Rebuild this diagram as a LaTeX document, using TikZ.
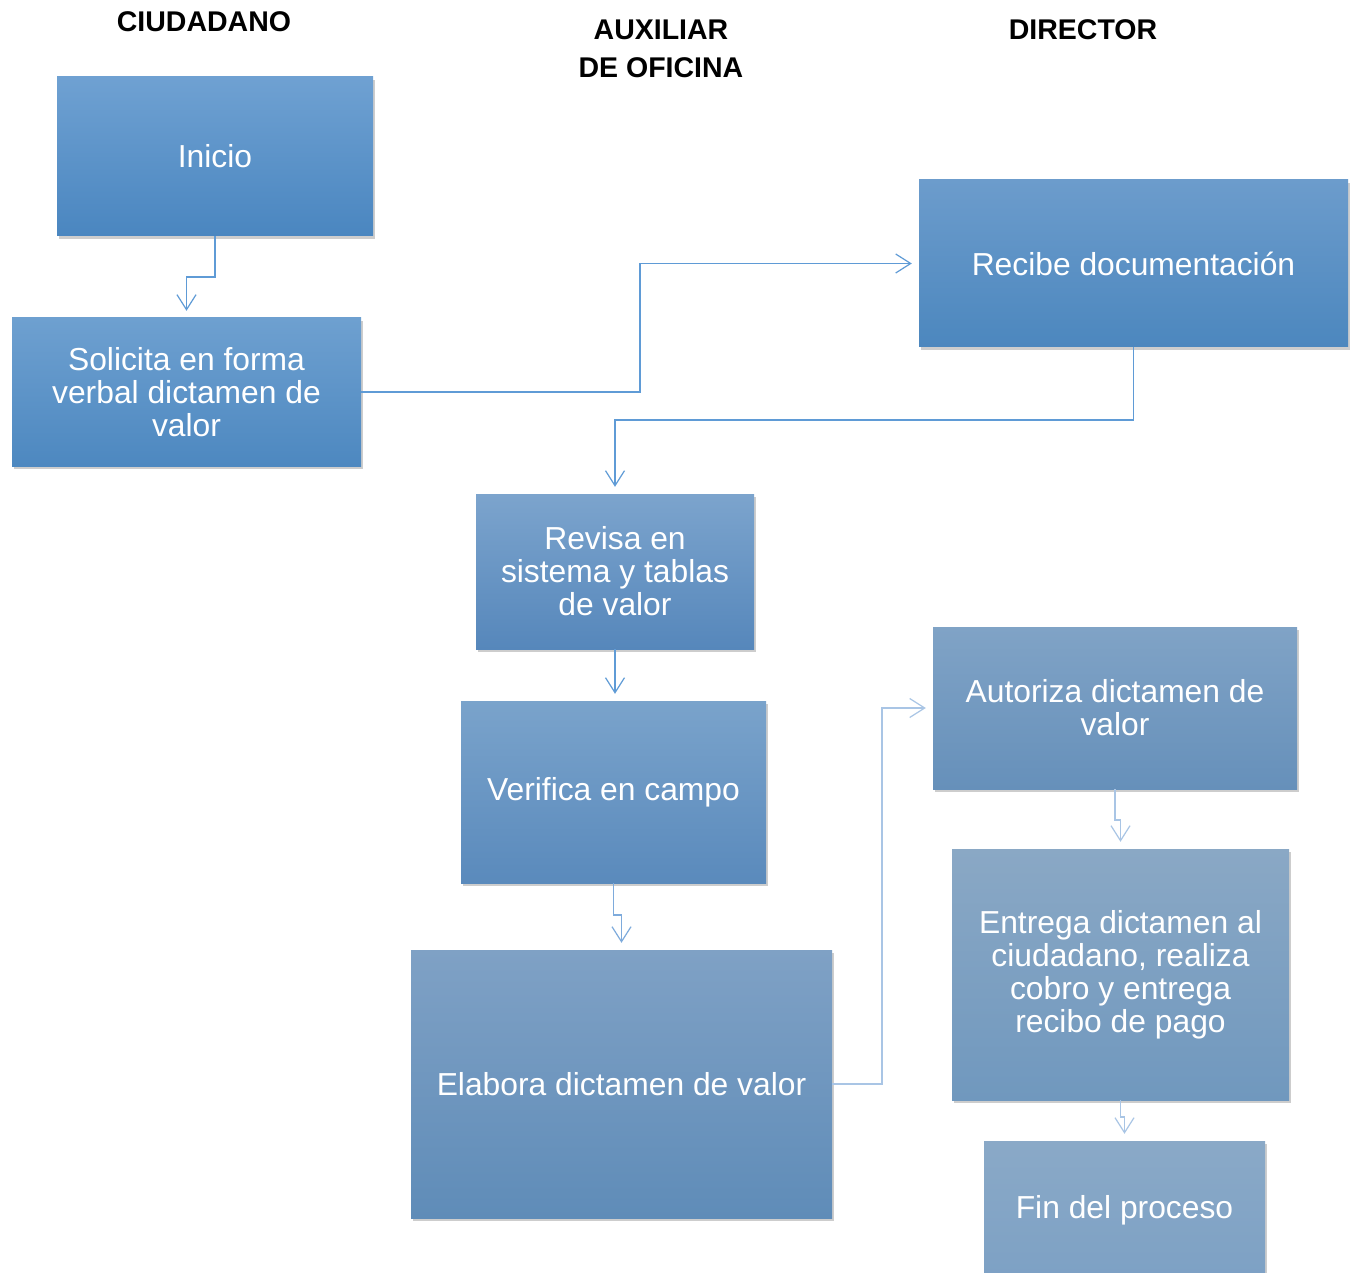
\documentclass[tikz,border=0pt]{standalone}
\usepackage{fontspec}
\setmainfont{Liberation Sans}
\usetikzlibrary{arrows.meta,shadows}

\definecolor{lineA}{HTML}{5F9BD6}
\definecolor{lineB}{HTML}{7EABDC}
\definecolor{lineC}{HTML}{A9C5E5}

\tikzset{
  stepbox/.style={
    rectangle, draw=none, align=center, text=white,
    font=\fontsize{31.8}{33}\selectfont, inner sep=4pt,
    drop shadow={shadow xshift=2pt, shadow yshift=-3pt, opacity=0.28, fill=black!70}
  },
  boxsize/.style 2 args={minimum width=#1pt, minimum height=#2pt},
  shade3/.style n args={3}{
    /utils/exec={\definecolor{boxtop}{HTML}{#1}\definecolor{boxmid}{HTML}{#2}\definecolor{boxbot}{HTML}{#3}},
    top color=boxtop, middle color=boxmid, bottom color=boxbot},
  header/.style={font=\fontsize{28.5}{38}\selectfont\bfseries, align=center, text=black},
  conn/.style={line width=1.2pt, -{Straight Barb[length=15pt,width=19pt,line width=1.2pt]}, shorten >=7pt}
}

\begin{document}
\begin{tikzpicture}[x=1pt, y=-1pt]
  \useasboundingbox (0,0) rectangle (1355,1273);
  \fill[white] (0,0) rectangle (1355,1273);

  % lane headers
  \node[header] (hciu) at (204,22) {CIUDADANO};
  \node[header] (haux) at (661,49) {AUXILIAR\\DE OFICINA};
  \node[header] (hdir) at (1083,30) {DIRECTOR};

  % process steps
  \node[stepbox, boxsize={316}{159}, shade3={6FA1D2}{5796D2}{4A86C0}] (inicio) at (215,156.5) {Inicio};
  \node[stepbox, boxsize={349}{148}, shade3={6EA0D0}{5592CE}{4D88C0}, text depth=0pt] (solicita) at (186.5,392) {Solicita en forma\\verbal dictamen de\\valor};
  \node[stepbox, boxsize={429}{167}, shade3={6C9CCC}{5592CC}{4C87BE}] (recibe) at (1133.5,263.5) {Recibe documentación};
  \node[stepbox, boxsize={278}{155}, shade3={7CA4CD}{6596C6}{5687BB}] (revisa) at (615,571.5) {Revisa en\\sistema y tablas\\de valor};
  \node[stepbox, boxsize={305}{182}, shade3={7AA3CB}{6A98C6}{5A8ABC}] (verifica) at (613.5,792) {Verifica en campo};
  \node[stepbox, boxsize={421}{268}, shade3={7FA1C5}{6F9BC6}{5F8CB8}] (elabora) at (621.5,1084) {Elabora dictamen de valor};
  \node[stepbox, boxsize={364}{162}, shade3={80A3C6}{7099C0}{6690BA}] (autoriza) at (1115,708) {Autoriza dictamen de\\valor};
  \node[stepbox, boxsize={337}{251}, shade3={8AA8C5}{7C9FC2}{7098BE}] (entrega) at (1120.5,974.5) {Entrega dictamen al\\ciudadano, realiza\\cobro y entrega\\recibo de pago};
  \node[stepbox, boxsize={281}{170}, shade3={8AA9C7}{80A2C5}{7A9FC4}] (fin) at (1124.5,1226) {};
  \node[text=white, font=\fontsize{31.8}{33}\selectfont] (fintext) at (1124.5,1210) {Fin del proceso};

  % bend points of the connectors
  \coordinate (b1) at (215,277);
  \coordinate (b2) at (640,263.5);
  \coordinate (b3) at (1133.5,420);
  \coordinate (b5) at (613.5,915);
  \coordinate (b6) at (882,708);
  \coordinate (b7) at (1115,820);
  \coordinate (b8) at (1120.5,1117);

  % connectors
  \draw[conn, lineA] (inicio.south) -- (b1) -| (solicita.north);
  \draw[conn, lineA] (solicita.east) -| (b2) -- (recibe.west);
  \draw[conn, lineA] (recibe.south) -- (b3) -| (revisa.north);
  \draw[conn, lineA] (revisa.south) -- (revisa.south |- verifica.north);
  \draw[conn, lineB] (verifica.south) -- (b5) -| (elabora.north);
  \draw[conn, lineC] (elabora.east) -| (b6) -- (autoriza.west);
  \draw[conn, lineC] (autoriza.south) -- (b7) -| (entrega.north);
  \draw[conn, lineC] (entrega.south) -- (b8) -| (fin.north);
\end{tikzpicture}
\end{document}
